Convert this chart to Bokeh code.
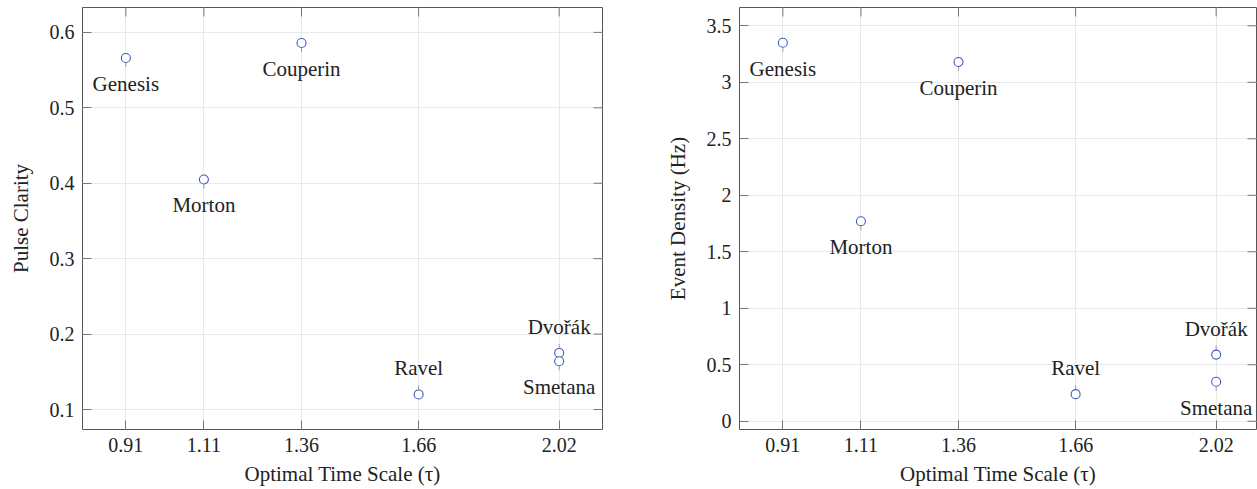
from bokeh.plotting import figure
from bokeh.models import Range1d, FixedTicker, ColumnDataSource
from bokeh.layouts import row
from bokeh.core.properties import value
from bokeh.embed import file_html
from bokeh.resources import INLINE

# ---- data ----
names = ["Genesis", "Morton", "Couperin", "Ravel", "Dvořák", "Smetana"]
tau = [0.91, 1.11, 1.36, 1.66, 2.02, 2.02]
pulse_clarity = [0.566, 0.405, 0.586, 0.120, 0.175, 0.164]
event_density = [3.35, 1.77, 3.18, 0.24, 0.59, 0.35]
label_side = ["below", "below", "below", "above", "above", "below"]

x_ticks = [0.91, 1.11, 1.36, 1.66, 2.02]
x_tick_labels = ["0.91", "1.11", "1.36", "1.66", "2.02"]
pc_ticks = [0.1, 0.2, 0.3, 0.4, 0.5, 0.6]
pc_tick_labels = ["0.1", "0.2", "0.3", "0.4", "0.5", "0.6"]
ed_ticks = [0, 0.5, 1, 1.5, 2, 2.5, 3, 3.5]
ed_tick_labels = ["0", "0.5", "1", "1.5", "2", "2.5", "3", "3.5"]

x_label = "Optimal Time Scale (τ)"
pc_label = "Pulse Clarity"
ed_label = "Event Density (Hz)"

# ---- style ----
FONT = "Liberation Serif"
TEXT = "#222222"
TICK = "#777777"
FRAME_H = 422
X_START, X_END = 0.799, 2.131
LEFT_FRAME_W = 520


def make(yvals, ylabel, yticks, ylabels, yr, frame_w, border_left, border_right):
    px_per_x = LEFT_FRAME_W / (X_END - X_START)
    xr = (X_START, X_START + frame_w / px_per_x)
    px_per_y = FRAME_H / (yr[1] - yr[0])
    p = figure(frame_width=frame_w, frame_height=FRAME_H,
               x_range=Range1d(*xr), y_range=Range1d(*yr),
               output_backend="svg", toolbar_location=None,
               min_border_left=border_left, min_border_right=border_right,
               min_border_top=7, min_border_bottom=60)
    p.background_fill_color = "white"
    p.border_fill_color = "white"
    p.outline_line_color = "#555555"
    p.outline_line_width = 1

    p.xaxis.ticker = FixedTicker(ticks=x_ticks)
    p.xaxis.major_label_overrides = {v: s for v, s in zip(x_ticks, x_tick_labels)}
    p.yaxis.ticker = FixedTicker(ticks=yticks)
    p.yaxis.major_label_overrides = {v: s for v, s in zip(yticks, ylabels)}
    p.xaxis.axis_label = x_label
    p.yaxis.axis_label = ylabel

    for ax in (p.xaxis[0], p.yaxis[0]):
        ax.axis_line_color = None
        ax.major_tick_in = 9
        ax.major_tick_out = 0
        ax.major_tick_line_color = TICK
        ax.minor_tick_line_color = None
        ax.major_label_text_font = FONT
        ax.major_label_text_font_size = "20px"
        ax.major_label_text_color = TEXT
        ax.major_label_standoff = 8
        ax.axis_label_text_font = FONT
        ax.axis_label_text_font_size = "21px"
        ax.axis_label_text_font_style = "normal"
        ax.axis_label_text_color = TEXT
        ax.axis_label_standoff = 7
    p.yaxis.axis_label_standoff = 14

    p.xgrid.ticker = FixedTicker(ticks=x_ticks)
    p.ygrid.ticker = FixedTicker(ticks=yticks)
    p.grid.grid_line_color = "#e9e9e9"
    p.grid.grid_line_width = 1

    # inward ticks on the top and right edges of the frame
    top_src = ColumnDataSource(dict(x=x_ticks,
                                    y0=[yr[1]] * len(x_ticks),
                                    y1=[yr[1] - 9 / px_per_y] * len(x_ticks)))
    p.segment(x0="x", y0="y0", x1="x", y1="y1", source=top_src,
              line_color=TICK, line_width=1)
    right_src = ColumnDataSource(dict(y=yticks,
                                      x0=[xr[1]] * len(yticks),
                                      x1=[xr[1] - 9 / px_per_x] * len(yticks)))
    p.segment(x0="x0", y0="y", x1="x1", y1="y", source=right_src,
              line_color=TICK, line_width=1)

    # pins & labels
    sign = [(-1 if s == "below" else 1) for s in label_side]
    y0 = [y + sg * 5 / px_per_y for y, sg in zip(yvals, sign)]
    y1 = [y + sg * 9 / px_per_y for y, sg in zip(yvals, sign)]
    yoff = [(-26 if s == "above" else 26) for s in label_side]
    src = ColumnDataSource(dict(x=tau, y=yvals, name=names, y0=y0, y1=y1, yoff=yoff))
    p.segment(x0="x", y0="y0", x1="x", y1="y1", source=src,
              line_color="#9a9a9a", line_width=1)
    p.scatter(x="x", y="y", source=src, marker="circle", size=9,
              fill_color="white", line_color="#3d5cbd", line_width=1.1)
    p.text(x="x", y="y", text="name", source=src, y_offset="yoff",
           text_font=value(FONT), text_font_size="21px", text_color=TEXT,
           text_align="center", text_baseline="middle")
    return p


p1 = make(pulse_clarity, pc_label, pc_ticks, pc_tick_labels, (0.0735, 0.633),
          LEFT_FRAME_W, 82, 26)
p2 = make(event_density, ed_label, ed_ticks, ed_tick_labels, (-0.073, 3.662),
          517, 111, 1)

layout = row(p1, p2)
open("out.html", "w").write(file_html(layout, INLINE))
